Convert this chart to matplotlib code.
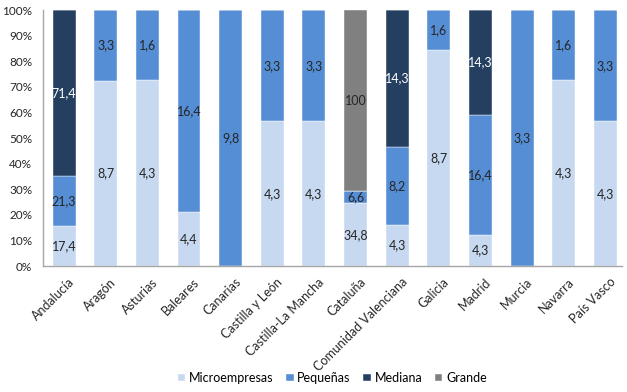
import matplotlib
matplotlib.use('Agg')
import matplotlib.pyplot as plt
import matplotlib.transforms as mtransforms
import numpy as np

plt.rcParams['font.family'] = ['Lato', 'DejaVu Sans']

regions = ["Andalucía", "Aragón", "Asturias", "Baleares", "Canarias", "Castilla y León",
           "Castilla-La Mancha", "Cataluña", "Comunidad Valenciana", "Galicia", "Madrid",
           "Murcia", "Navarra", "País Vasco"]
micro = [17.4, 8.7, 4.3, 4.4, 0, 4.3, 4.3, 34.8, 4.3, 8.7, 4.3, 0, 4.3, 4.3]
pequenas = [21.3, 3.3, 1.6, 16.4, 9.8, 3.3, 3.3, 6.6, 8.2, 1.6, 16.4, 3.3, 1.6, 3.3]
mediana = [71.4, 0, 0, 0, 0, 0, 0, 0, 14.3, 0, 14.3, 0, 0, 0]
grande = [0, 0, 0, 0, 0, 0, 0, 100, 0, 0, 0, 0, 0, 0]

series = [("Microempresas", micro, "#c6d9f1", "#262626"),
          ("Pequeñas", pequenas, "#558ed5", "#262626"),
          ("Mediana", mediana, "#243f60", "white"),
          ("Grande", grande, "#808080", "#262626")]

data = np.array([s[1] for s in series], dtype=float)
totals = data.sum(axis=0)
pct = data / totals * 100

fig = plt.figure(figsize=(6.27, 3.92), dpi=100)
ax = fig.add_axes([0.069, 0.321, 0.923, 0.653])

x = np.arange(len(regions))
bottom = np.zeros(len(regions))
for (name, vals, color, tcolor), p in zip(series, pct):
    ax.bar(x, p, 0.55, bottom=bottom, color=color, label=name, edgecolor='white', linewidth=0.3)
    for i, (v, h) in enumerate(zip(vals, p)):
        if v > 0:
            lbl = ("%g" % v).replace('.', ',')
            ax.text(x[i], bottom[i] + h / 2, lbl, ha='center', va='center',
                    fontsize=9, color=tcolor)
    bottom += p

ax.set_xlim(-0.5, 13.4)
ax.set_ylim(0, 100)
ax.set_yticks(np.arange(0, 101, 10))
ax.set_yticklabels(["%d%%" % v for v in range(0, 101, 10)], fontsize=8.5, color='#262626')
ax.set_xticks(x)
ax.set_xticklabels(regions, rotation=45, ha='right', rotation_mode='anchor', fontsize=9, color='#262626')
ax.tick_params(axis='y', length=0, pad=8)
ax.tick_params(axis='x', length=0, pad=7)
shift = mtransforms.ScaledTranslation(4 / 100, 0, fig.dpi_scale_trans)
for t in ax.get_xticklabels():
    t.set_transform(t.get_transform() + shift)
for s in ['top', 'right']:
    ax.spines[s].set_visible(False)
for s in ['left', 'bottom']:
    ax.spines[s].set_color('#a6a6a6')
    ax.spines[s].set_linewidth(1)

fig.legend(loc='center', bbox_to_anchor=(0.53, 0.036), ncol=4, frameon=False, fontsize=9,
           handlelength=0.6, handleheight=0.6, handletextpad=0.3, columnspacing=1.0)

fig.savefig('out.png', dpi=100)
